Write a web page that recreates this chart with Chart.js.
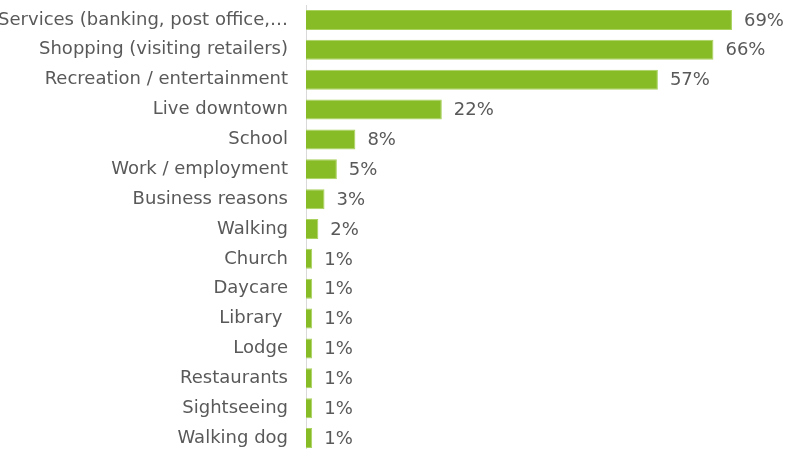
<!DOCTYPE html>
<html>
<head>
<meta charset="utf-8">
<script src="https://cdn.jsdelivr.net/npm/chart.js@4.4.1/dist/chart.umd.min.js"></script>
<style>
  html, body { margin: 0; padding: 0; background: #ffffff; overflow: hidden; }
  #wrap { width: 789px; height: 449px; overflow: hidden; }
  canvas { display: block; }
</style>
</head>
<body>
<div id="wrap"><canvas id="chart" width="789" height="454"></canvas></div>
<script>
// Reasons for visiting downtown (share of respondents, %)
const categories = [
  'Services (banking, post office,\u2026',
  'Shopping (visiting retailers)',
  'Recreation / entertainment',
  'Live downtown',
  'School',
  'Work / employment',
  'Business reasons',
  'Walking',
  'Church',
  'Daycare',
  'Library ',
  'Lodge',
  'Restaurants',
  'Sightseeing',
  'Walking dog'
];
const shares = [69, 66, 57, 22, 8, 5, 3, 2, 1, 1, 1, 1, 1, 1, 1];

const FONT = "'DejaVu Sans', Verdana, sans-serif";
const TEXT = '#595959';

// Writes the percentage just past the end of each bar
const valueLabels = {
  id: 'valueLabels',
  afterDatasetsDraw(chart) {
    const ctx = chart.ctx;
    const meta = chart.getDatasetMeta(0);
    const data = chart.data.datasets[0].data;
    ctx.save();
    ctx.font = '18px ' + FONT;
    ctx.fillStyle = TEXT;
    ctx.textAlign = 'left';
    ctx.textBaseline = 'middle';
    meta.data.forEach((bar, i) => {
      ctx.fillText(data[i] + '%', bar.x + 12, bar.y + 1);
    });
    ctx.restore();
  }
};

new Chart(document.getElementById('chart'), {
  type: 'bar',
  data: {
    labels: categories,
    datasets: [{
      data: shares,
      backgroundColor: '#88bc27',
      borderColor: '#a9d25f',
      borderWidth: 1,
      barPercentage: 0.67,
      categoryPercentage: 1.0
    }]
  },
  options: {
    indexAxis: 'y',
    responsive: false,
    animation: false,
    devicePixelRatio: 1,
    layout: { padding: { top: 5, bottom: 1, left: 0, right: 20 } },
    plugins: {
      legend: { display: false },
      tooltip: { enabled: false }
    },
    scales: {
      x: {
        display: false,
        min: 0,
        max: 75
      },
      y: {
        afterFit(scale) {
          scale.width = 306;
          scale.paddingTop = 0;
          scale.paddingBottom = 0;
        },
        grid: { display: false, drawTicks: false },
        border: { display: true, color: '#d9d9d9', width: 1 },
        ticks: {
          color: TEXT,
          font: { family: FONT, size: 18 },
          padding: 18,
          autoSkip: false
        }
      }
    }
  },
  plugins: [valueLabels]
});
</script>
</body>
</html>
